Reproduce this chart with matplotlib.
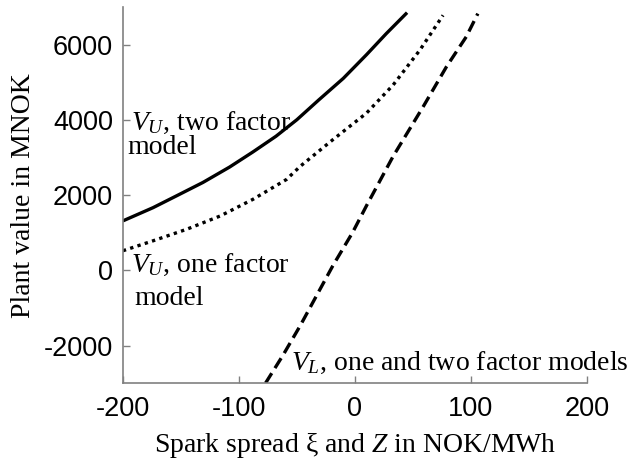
import matplotlib
matplotlib.use("Agg")
import matplotlib.pyplot as plt

plt.rcParams['mathtext.fontset'] = 'custom'
plt.rcParams['mathtext.rm'] = 'Liberation Serif'
plt.rcParams['mathtext.it'] = 'Liberation Serif:italic'

# V_U, two factor model
x_two = [-200, -174, -154, -131, -108, -88, -68, -50, -31, -10, 10, 27, 45]
y_two = [1317, 1669, 1980, 2340, 2750, 3150, 3570, 4010, 4540, 5110, 5740, 6300, 6860]

# V_U, one factor model
x_one = [-200, -174, -145, -116, -88, -59, -47, -19, 10, 33, 56, 76]
y_one = [522, 787, 1094, 1449, 1889, 2419, 2773, 3478, 4185, 4935, 5862, 6790]

# V_L, one and two factor models
x_low = [-77, -62, -47, -33, -19, -2, 10, 33, 59, 79, 96, 106]
y_low = [-3000, -2260, -1465, -670, 124, 1007, 1720, 3038, 4363, 5423, 6217, 6834]

xticks = [-200, -100, 0, 100, 200]
yticks = [-2000, 0, 2000, 4000, 6000]

fig = plt.figure(figsize=(6.4, 4.61), dpi=100)
ax = fig.add_axes([0.192, 0.169, 0.725, 0.815])

ax.plot(x_two, y_two, color='black', lw=2.4, solid_capstyle='butt')
ax.plot(x_one, y_one, color='black', lw=2.4, linestyle=(0, (1, 1.3)))
ax.plot(x_low, y_low, color='black', lw=2.4, linestyle=(0, (3.5, 1.8)))

ax.set_xlim(-200, 200)
ax.set_ylim(-3000, 7000)
ax.set_xticks(xticks)
ax.set_yticks(yticks)
ax.set_xticklabels([str(v) for v in xticks], fontfamily='Liberation Sans', fontsize=19.5)
ax.set_yticklabels([str(v) for v in yticks], fontfamily='Liberation Sans', fontsize=19.5)
ax.tick_params(direction='in', length=5, color='#808080', width=1, pad=7)
ax.tick_params(axis='x', pad=9)

for s in ['top', 'right']:
    ax.spines[s].set_visible(False)
for s in ['left', 'bottom']:
    ax.spines[s].set_color('#808080')
    ax.spines[s].set_linewidth(1.2)

ax.set_xlabel('Spark spread \u03be and $Z$ in NOK/MWh', fontfamily='Liberation Serif', fontsize=20, labelpad=7)
ax.set_ylabel('Plant value in MNOK', fontfamily='Liberation Serif', fontsize=20, labelpad=6)

tkw = dict(fontfamily='Liberation Serif', fontsize=20, va='baseline', ha='left')
ax.text(-193, 3740, r'$V_{U}$, two factor', **tkw)
ax.text(-196, 3100, 'model', **tkw)
ax.text(-193, -53, r'$V_{U}$, one factor', **tkw)
ax.text(-190, -927, 'model', **tkw)
ax.text(-55, -2650, r'$V_{L}$, one and two factor models', **tkw)

fig.savefig('out.png', dpi=100)
